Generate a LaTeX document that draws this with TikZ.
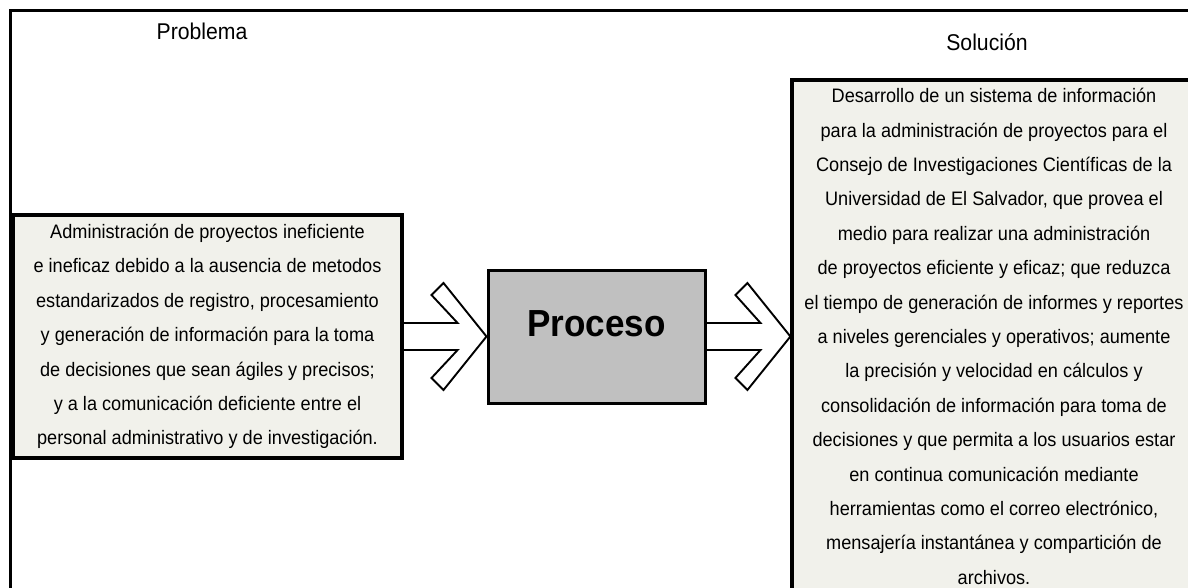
\documentclass[tikz,border=0pt]{standalone}
\usepackage{fontspec}
\setmainfont{Liberation Sans}[FakeStretch=0.93]
\usetikzlibrary{calc}
\definecolor{crema}{RGB}{241,241,235}
\definecolor{grisproc}{RGB}{192,192,192}
\begin{document}
\begin{tikzpicture}
[x=1pt,y=-1pt,
caja/.style={draw,line width=3.2pt,fill=crema,align=center,inner sep=0pt,
font=\fontsize{19.5}{34.4}\selectfont},
cajaproc/.style={draw,line width=3pt,fill=grisproc,inner sep=0pt,
font=\fontsize{37.7}{40}\selectfont\bfseries,text depth=26pt},
titulo/.style={anchor=base,font=\fontsize{22.8}{26}\selectfont},
flecha/.style={draw,line width=1.9pt,line join=miter}]
       \useasboundingbox (0,0) rectangle (1188,588);
       \clip (0,0) rectangle (1188,588);
       % marco
       \draw[line width=3pt] (1200,11) -- (10,11) -- (10,600);
       % titulos
       \node (tprob) at (202,40) [titulo] {Problema};
       \node (tsol) at (987,51) [titulo] {Solución};
       % cajas
       \node (prob) at (207.5,336.5) [caja,minimum width=389pt,minimum height=243pt]
       {Administración de proyectos ineficiente\\
       e ineficaz debido a la ausencia de metodos\\
       estandarizados de registro, procesamiento\\
       y generación de información para la toma\\
       de decisiones que sean ágiles y precisos;\\
       y a la comunicación deficiente entre el\\
       personal administrativo y de investigación.};
       \node (proc) at (596.5,336.5) [cajaproc,minimum width=217pt,minimum height=133pt] {Proceso};
       \node (sol) at (994,336.5) [caja,minimum width=404pt,minimum height=513pt]
       {Desarrollo de un sistema de información\\
       para la administración de proyectos para el\\
       Consejo de Investigaciones Científicas de la\\
       Universidad de El Salvador, que provea el\\
       medio para realizar una administración\\
       de proyectos eficiente y eficaz; que reduzca\\
       el tiempo de generación de informes y reportes\\
       a niveles gerenciales y operativos; aumente\\
       la precisión y velocidad en cálculos y\\
       consolidación de información para toma de\\
       decisiones y que permita a los usuarios estar\\
       en continua comunicación mediante\\
       herramientas como el correo electrónico,\\
       mensajería instantánea y compartición de\\
       archivos.};
       % flechas
       \foreach \a/\b in {prob/proc,proc/sol}{
       \coordinate (punta) at (\a.east -| \b.west);
       \draw[flecha] ($(\a.east)+(0,-13.5)$) -- ($(\a.east)+(54,-13.5)$)
       -- ($(punta)+(-55,-41.5)$) -- ($(punta)+(-43,-53.5)$) -- (punta)
       -- ($(punta)+(-43,53.5)$) -- ($(punta)+(-55,41.5)$)
       -- ($(\a.east)+(54,13.5)$) -- ($(\a.east)+(0,13.5)$);
       }
    \end{tikzpicture}
\end{document}
